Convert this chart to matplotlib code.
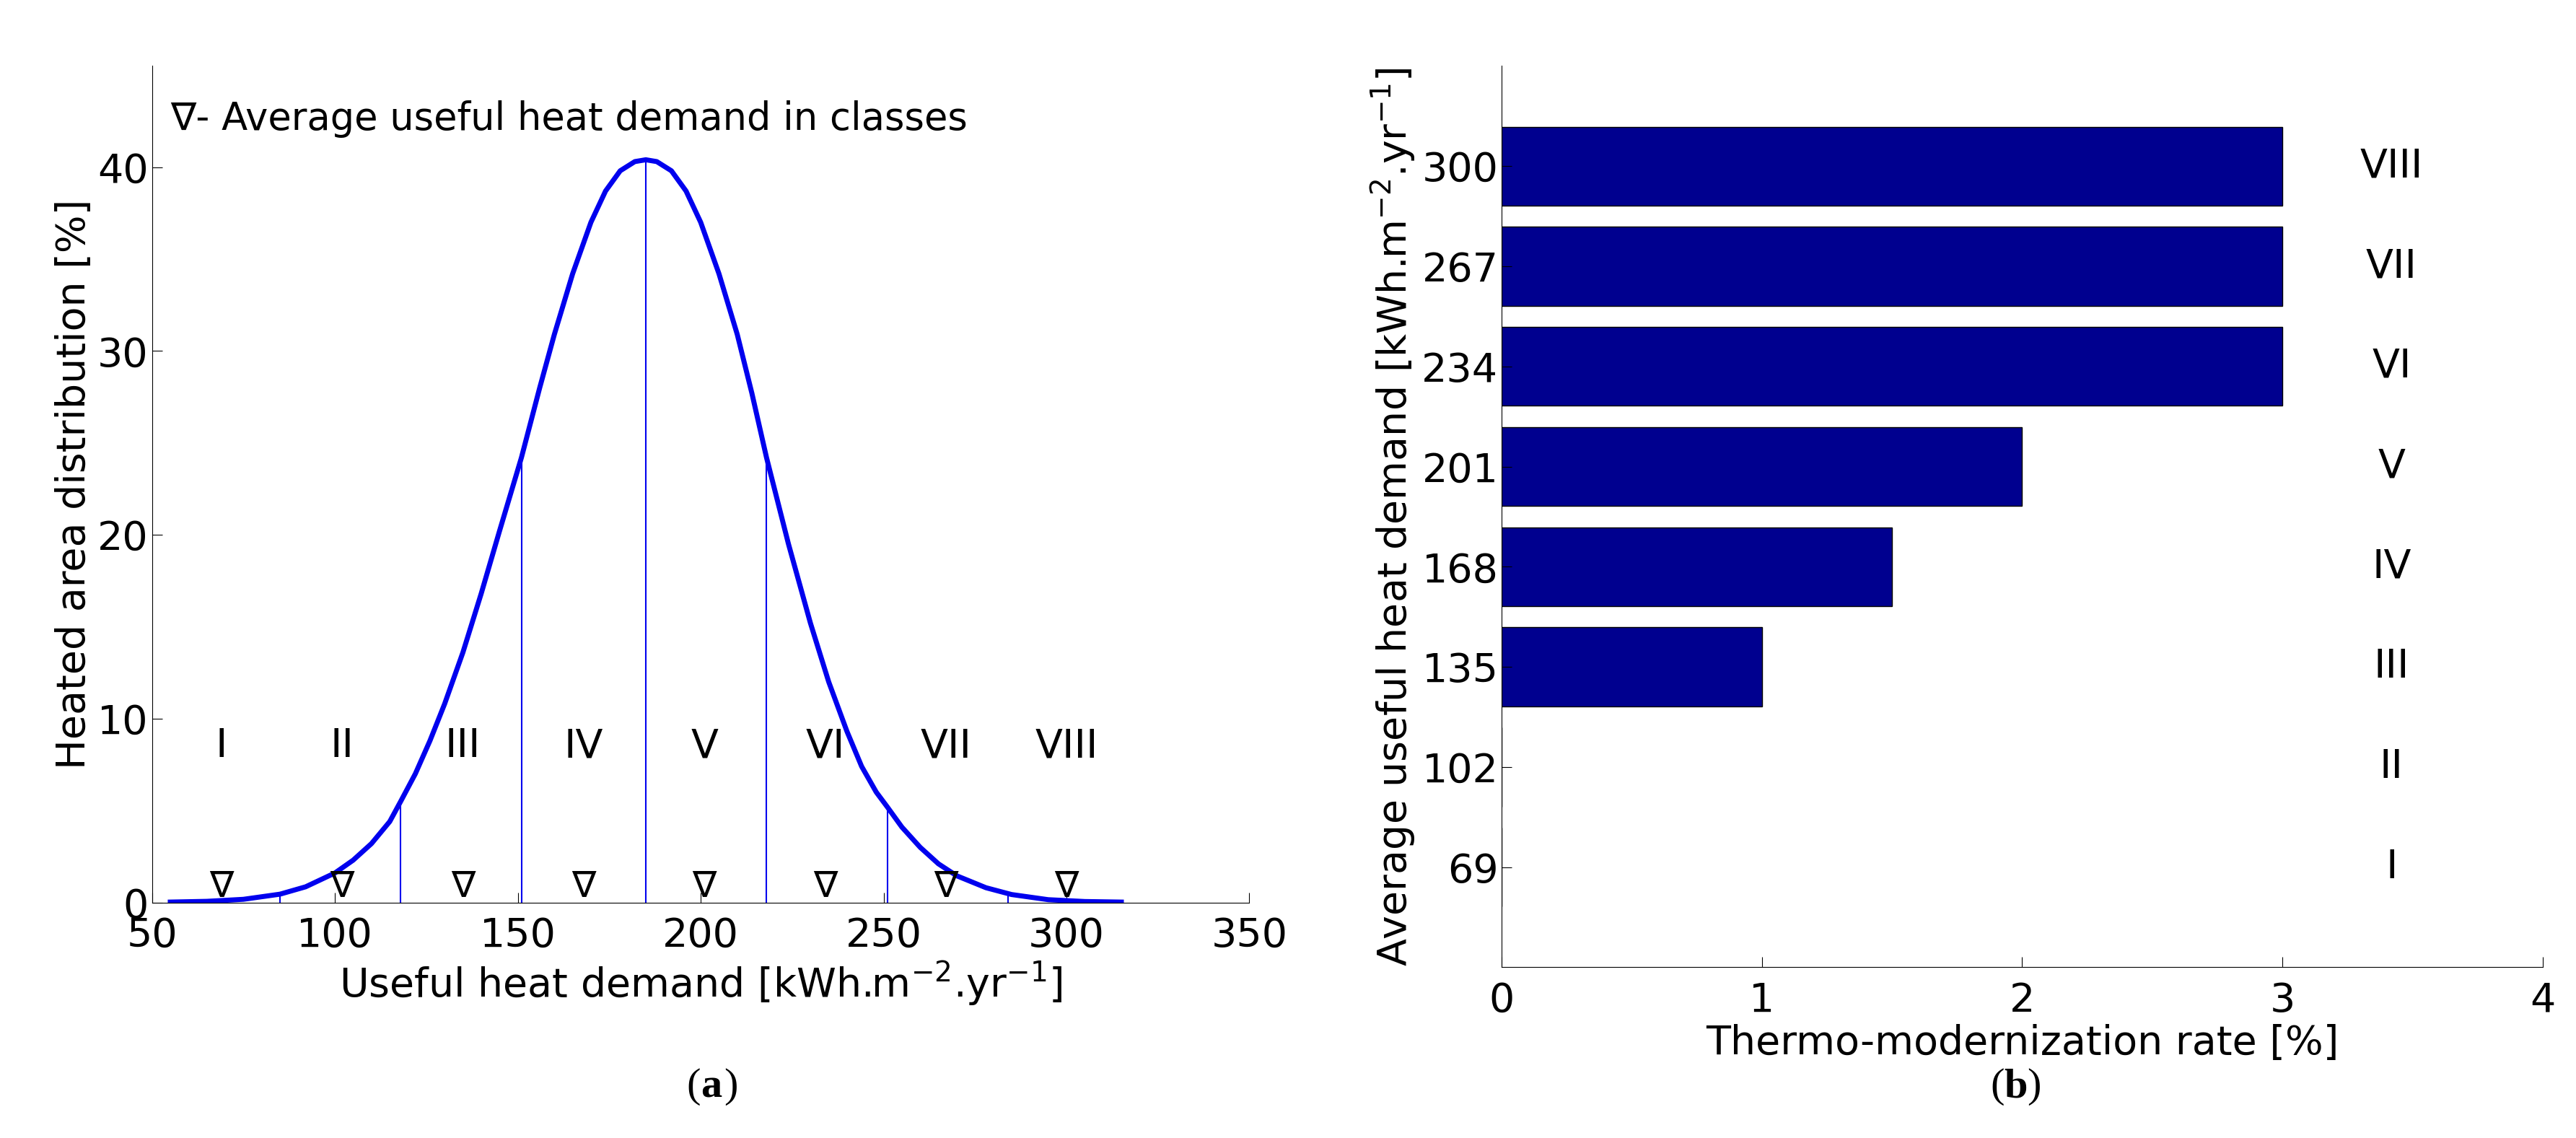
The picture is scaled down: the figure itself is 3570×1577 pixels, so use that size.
import numpy as np
import matplotlib.pyplot as plt

# left panel: heated area distribution curve
demand_x = [55, 65, 75, 85, 92, 100, 105, 110, 115, 118, 122, 126, 130, 135, 140,
            145, 151, 156, 160, 165, 170, 174, 178, 182, 185,
            188, 192, 196, 200, 205, 210, 214, 218, 224, 230, 235, 240, 244, 248, 251,
            255, 260, 265, 270, 278, 285, 295, 305, 315]
area_y = [0.02, 0.06, 0.17, 0.45, 0.85, 1.6, 2.3, 3.2, 4.4, 5.5, 7.0, 8.8, 10.8, 13.6, 16.8,
          20.2, 24.2, 28.0, 30.9, 34.2, 37.0, 38.7, 39.8, 40.3, 40.4,
          40.3, 39.8, 38.7, 37.0, 34.2, 30.9, 27.7, 24.2, 19.5, 15.2, 12.0, 9.3, 7.4, 6.0, 5.2,
          4.1, 3.0, 2.1, 1.45, 0.8, 0.43, 0.15, 0.05, 0.02]
class_bounds = [85, 118, 151, 185, 218, 251, 284]
class_bound_y = [0.45, 5.5, 24.2, 40.4, 24.2, 5.2, 0.45]
class_names = ["I", "II", "III", "IV", "V", "VI", "VII", "VIII"]
class_means = [69, 102, 135, 168, 201, 234, 267, 300]

# right panel: thermo-modernization rate per class
rates = [0, 0, 1, 1.5, 2, 3, 3, 3]

plt.rcParams["font.family"] = "DejaVu Sans"
fig = plt.figure(figsize=(35.7, 15.77), dpi=100)

ax = fig.add_axes([0.059, 0.207, 0.426, 0.735])
ax.plot(demand_x, area_y, color="#0000ee", lw=5)
ax.vlines(class_bounds, 0, class_bound_y, color="#0000ee", lw=1.5)
for name, m in zip(class_names, class_means):
    ax.text(m, 8.5, name, ha="center", va="center", fontsize=40)
    ax.text(m, 0.9, "\u2207", ha="center", va="center", fontsize=36)
ax.text(55, 42.6, "\u2207- Average useful heat demand in classes", fontsize=38, va="center")
ax.set_xlim(50, 350)
ax.set_ylim(0, 45.5)
ax.set_xticks([50, 100, 150, 200, 250, 300, 350])
ax.set_yticks([0, 10, 20, 30, 40])
ax.spines["top"].set_visible(False)
ax.spines["right"].set_visible(False)
ax.tick_params(labelsize=40, direction="in", length=10)
ax.tick_params(axis="x", pad=14)
ax.set_xlabel("Useful heat demand [kWh.m$^{-2}$.yr$^{-1}$]", fontsize=40)
ax.set_ylabel("Heated area distribution [%]", fontsize=40)

bx = fig.add_axes([0.583, 0.15, 0.404, 0.792])
bx.barh(class_means, rates, height=26, color="#00008f", edgecolor="black", lw=1)
for name, m in zip(class_names, class_means):
    bx.text(3.42, m, name, ha="center", va="center", fontsize=40)
bx.set_xlim(0, 4)
bx.set_ylim(36, 333)
bx.set_yticks(class_means)
bx.set_xticks([0, 1, 2, 3, 4])
bx.spines["top"].set_visible(False)
bx.spines["right"].set_visible(False)
bx.tick_params(labelsize=40, direction="in", length=10)
bx.tick_params(axis="x", pad=14)
bx.set_xlabel("Thermo-modernization rate [%]", fontsize=40)
bx.set_ylabel("Average useful heat demand [kWh.m$^{-2}$.yr$^{-1}$]", fontsize=40)

fig.text(0.272, 0.045, "(", fontsize=42, family="Liberation Serif", ha="right", va="center")
fig.text(0.272, 0.045, "a", fontsize=42, family="Liberation Serif", weight="bold", ha="left", va="center")
fig.text(0.281, 0.045, ")", fontsize=42, family="Liberation Serif", ha="left", va="center")
fig.text(0.778, 0.045, "(", fontsize=42, family="Liberation Serif", ha="right", va="center")
fig.text(0.778, 0.045, "b", fontsize=42, family="Liberation Serif", weight="bold", ha="left", va="center")
fig.text(0.787, 0.045, ")", fontsize=42, family="Liberation Serif", ha="left", va="center")

fig.savefig("out.png", dpi=100)
